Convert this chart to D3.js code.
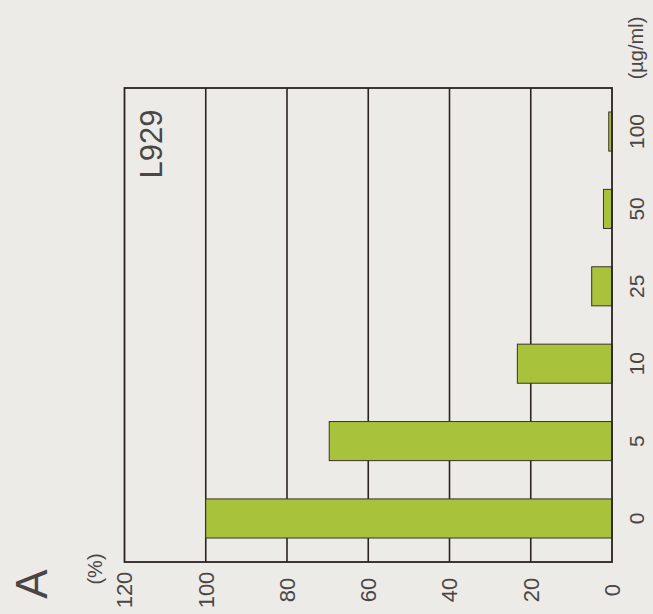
<!DOCTYPE html>
<html>
<head>
<meta charset="utf-8">
<script src="https://cdn.jsdelivr.net/npm/d3@7"></script>
<style>
  body { margin: 0; background: #edebe8; }
  text { font-family: "Liberation Sans", Arial, sans-serif; fill: #4a4646; }
</style>
</head>
<body>
<svg width="653" height="614"></svg>
<script>
// concentrations (µg/ml) and viability (%) for L929
var concentrations = ["0", "5", "10", "25", "50", "100"];
var viability = [100, 69.6, 23.3, 5.0, 2.1, 0.8];
var valueTicks = [0, 20, 40, 60, 80, 100, 120];

var svg = d3.select("svg");

// chart is drawn turned on its side: values run right-to-left, categories bottom-to-top
var plotLeft = 124.5, plotRight = 612, plotTop = 88, plotBottom = 562;

var x = d3.scaleLinear()
    .domain([0, 120])
    .range([plotRight, plotLeft]);

var y = d3.scaleBand()
    .domain(concentrations.slice().reverse())
    .range([plotTop, plotBottom])
    .paddingInner(0.495)
    .paddingOuter(0.31);

var g = svg.append("g");

// grid lines
g.selectAll(".grid")
    .data(valueTicks.filter(function(d) { return d > 0 && d < 120; }))
  .enter().append("line")
    .attr("x1", function(d) { return x(d); })
    .attr("x2", function(d) { return x(d); })
    .attr("y1", plotTop)
    .attr("y2", plotBottom)
    .attr("stroke", "#2b2222")
    .attr("stroke-width", 1.6);

// bars
g.selectAll(".bar")
    .data(concentrations)
  .enter().append("rect")
    .attr("x", function(d, i) { return x(viability[i]); })
    .attr("y", function(d) { return y(d); })
    .attr("width", function(d, i) { return x(0) - x(viability[i]); })
    .attr("height", y.bandwidth())
    .attr("fill", "#a8c23c")
    .attr("stroke", "#3a3328")
    .attr("stroke-width", 1);

// frame
g.append("rect")
    .attr("x", plotLeft)
    .attr("y", plotTop)
    .attr("width", plotRight - plotLeft)
    .attr("height", plotBottom - plotTop)
    .attr("fill", "none")
    .attr("stroke", "#2b2222")
    .attr("stroke-width", 1.8);

// value tick labels (rotated)
g.selectAll(".vlab")
    .data(valueTicks)
  .enter().append("text")
    .attr("transform", function(d) { return "translate(" + x(d) + ",590) rotate(-90)"; })
    .attr("text-anchor", "middle")
    .attr("dy", "0.36em")
    .style("font-size", "22px")
    .text(function(d) { return d; });

// category labels (rotated)
g.selectAll(".clab")
    .data(concentrations)
  .enter().append("text")
    .attr("transform", function(d) { return "translate(636," + (y(d) + y.bandwidth() / 2) + ") rotate(-90)"; })
    .attr("text-anchor", "middle")
    .attr("dy", "0.36em")
    .style("font-size", "21px")
    .text(function(d) { return d; });

svg.append("text")
    .attr("transform", "translate(636,48) rotate(-90)")
    .attr("text-anchor", "middle")
    .attr("dy", "0.36em")
    .style("font-size", "20px")
    .text("(µg/ml)");

svg.append("text")
    .attr("transform", "translate(95,569) rotate(-90)")
    .attr("text-anchor", "middle")
    .attr("dy", "0.36em")
    .style("font-size", "20px")
    .text("(%)");

svg.append("text")
    .attr("transform", "translate(31,584) rotate(-90)")
    .attr("text-anchor", "middle")
    .attr("dy", "0.36em")
    .style("font-size", "44px")
    .text("A");

svg.append("text")
    .attr("transform", "translate(151,144) rotate(-90)")
    .attr("text-anchor", "middle")
    .attr("dy", "0.36em")
    .style("font-size", "31px")
    .text("L929");
</script>
</body>
</html>
